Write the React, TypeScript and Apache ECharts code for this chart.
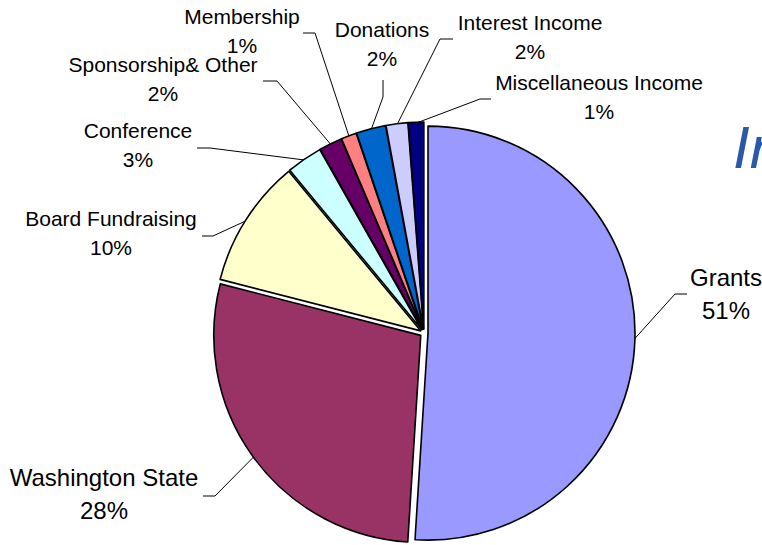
import React, { useEffect, useRef } from "react";
import * as echarts from "echarts";

const categories = [
  "Grants",
  "Washington State",
  "Board Fundraising",
  "Conference",
  "Sponsorship& Other",
  "Membership",
  "Donations",
  "Interest Income",
  "Miscellaneous Income",
];
const values = [51.0, 28.0, 10.0, 2.8, 1.8, 1.2, 2.3, 1.7, 1.2];
const colors = [
  "#9999FF",
  "#993366",
  "#FFFFCC",
  "#CCFFFF",
  "#660066",
  "#FF8080",
  "#0066CC",
  "#CCCCFF",
  "#000080",
];
// label layout (block centre, line bend, line end) per slice
const labelPos: [number, number][] = [
  [726, 294],
  [104, 494],
  [111, 233],
  [138, 145],
  [163, 79],
  [242, 31],
  [382, 44],
  [530, 37],
  [599, 97],
];
const lineBend: [number, number][] = [
  [675, 294],
  [215, 496],
  [213, 236],
  [210, 148],
  [277, 81],
  [315, 33],
  [383, 97],
  [440, 39],
  [480, 99],
];
const lineEnd: [number, number][] = [
  [687, 294],
  [203, 496],
  [202, 236],
  [197, 148],
  [263, 81],
  [303, 33],
  [383, 80],
  [453, 39],
  [491, 99],
];
const bigLabels = [0, 1];

export default function App() {
  const ref = useRef<HTMLDivElement>(null);
  useEffect(() => {
    if (!ref.current) return;
    const chart = echarts.init(ref.current, null, { renderer: "svg" });
    const font = "'Liberation Sans', Arial, sans-serif";
    chart.setOption({
      animation: false,
      backgroundColor: "#ffffff",
      graphic: [
        {
          type: "text",
          x: 733,
          y: 147,
          style: {
            text: "In",
            font: `italic 60px ${font}`,
            fill: "#2A58AA",
            verticalAlign: "middle",
            align: "left",
          },
        },
      ],
      series: [
        {
          type: "pie",
          center: [424, 333],
          radius: 207,
          startAngle: 90,
          clockwise: true,
          selectedMode: "multiple",
          selectedOffset: 4,
          silent: true,
          itemStyle: { borderColor: "#000", borderWidth: 1.6 },
          select: { itemStyle: { borderColor: "#000", borderWidth: 1.6 } },
          label: { show: false },
          labelLine: { show: false },
          data: categories.map((name, i) => ({
            name,
            value: values[i],
            selected: true,
            itemStyle: { color: colors[i] },
          })),
        },
        {
          type: "pie",
          center: [424, 333],
          radius: 210,
          startAngle: 90,
          clockwise: true,
          silent: true,
          avoidLabelOverlap: false,
          itemStyle: { color: "rgba(0,0,0,0)", borderWidth: 0 },
          label: {
            show: true,
            position: "outside",
            color: "#000",
            fontFamily: font,
            fontSize: 21,
            lineHeight: 29,
            align: "center",
            formatter: (p: any) => `${p.name}\n${Math.round(p.percent)}%`,
          },
          labelLine: {
            show: true,
            length: 20,
            length2: 10,
            lineStyle: { color: "#000", width: 1 },
          },
          labelLayout: (params: any) => {
            const i = params.dataIndex;
            const start = params.labelLinePoints
              ? params.labelLinePoints[0]
              : lineBend[i];
            return {
              x: labelPos[i][0],
              y: labelPos[i][1],
              align: "center",
              verticalAlign: "middle",
              labelLinePoints: [start, lineBend[i], lineEnd[i]],
            };
          },
          data: categories.map((name, i) => ({
            name,
            value: values[i],
            label: bigLabels.includes(i)
              ? { fontSize: 24, lineHeight: 33 }
              : undefined,
          })),
        },
      ],
    });
    return () => chart.dispose();
  }, []);
  return (
    <div
      ref={ref}
      style={{
        position: "fixed",
        left: 0,
        top: 0,
        width: 762,
        height: 545,
        background: "#fff",
      }}
    />
  );
}
